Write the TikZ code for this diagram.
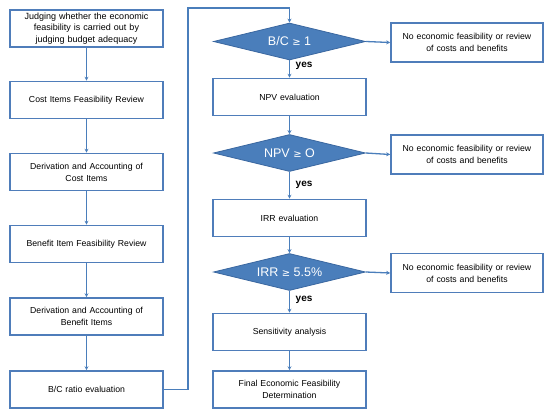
\documentclass[tikz,border=0pt]{standalone}
\usepackage{fontspec}
\setmainfont{Liberation Sans}
\newfontfamily\symfont{DejaVu Sans}
\usetikzlibrary{shapes.geometric,arrows.meta}
\definecolor{boxblue}{HTML}{4F7DBA}
\definecolor{dfill}{HTML}{4A7EBB}
\definecolor{dline}{HTML}{3A67A0}
\definecolor{arr}{HTML}{4A7EBB}
\tikzset{
  box/.style={draw=boxblue,line width=1.6pt,fill=white,minimum width=153pt,minimum height=37pt,inner sep=0pt,text width=150pt,align=center,font=\fontsize{8.7}{12}\selectfont},
  dia/.style={diamond,draw=dline,line width=0.8pt,fill=dfill,aspect=4.1,minimum width=152pt,minimum height=37pt,inner sep=0pt,text=white,font=\fontsize{12.5}{14}\selectfont},
  rbox/.style={box,minimum width=152pt,minimum height=39pt},
  conn/.style={draw=arr,line width=1.3pt,-{Stealth[length=4pt,width=4pt]}},
  yeslab/.style={anchor=west,inner sep=0pt,font=\fontsize{10}{11}\selectfont\bfseries}
}
\begin{document}
\begin{tikzpicture}[x=1pt,y=-1pt]
\useasboundingbox (0,0) rectangle (550,418);
% left column
\node[box,font=\fontsize{9}{11.3}\selectfont] (b1) at (86.5,28.5) {Judging whether the economic\\feasibility is carried out by\\judging budget adequacy};
\node[box] (b2) at (86.5,100) {Cost Items Feasibility Review};
\node[box] (b3) at (86.5,172) {Derivation and Accounting of\\Cost Items};
\node[box] (b4) at (86.5,244) {Benefit Item Feasibility Review};
\node[box] (b5) at (86.5,316.5) {Derivation and Accounting of\\Benefit Items};
\node[box] (b6) at (86.5,389.5) {B/C ratio evaluation};
% right column
\node[dia] (d1) at (289.5,41.5) {B/C {\symfont\fontsize{10}{11}\selectfont ≥} 1};
\node[box] (c1) at (289.5,97) {NPV evaluation};
\node[dia] (d2) at (289.5,153) {NPV {\symfont\fontsize{10}{11}\selectfont ≥} O};
\node[box] (c2) at (289.5,218) {IRR evaluation};
\node[dia] (d3) at (289.5,272) {IRR {\symfont\fontsize{10}{11}\selectfont ≥} 5.5\%};
\node[box] (c3) at (289.5,332) {Sensitivity analysis};
\node[box] (c4) at (289.5,389.5) {Final Economic Feasibility\\Determination};
% no boxes
\node[rbox] (r1) at (467,42.5) {No economic feasibility or review\\of costs and benefits};
\node[rbox] (r2) at (467,154.5) {No economic feasibility or review\\of costs and benefits};
\node[rbox] (r3) at (467,273) {No economic feasibility or review\\of costs and benefits};
% connectors
\draw[conn] (b1) -- (b2);
\draw[conn] (b2) -- (b3);
\draw[conn] (b3) -- (b4);
\draw[conn] (b4) -- (b5);
\draw[conn] (b5) -- (b6);
\coordinate (lp) at (188,8);
\draw[conn] (b6.east) -| (lp) -| (d1.north);
\draw[conn] (d1) -- (c1);
\draw[conn] (c1) -- (d2);
\draw[conn] (d2) -- (c2);
\draw[conn] (c2) -- (d3);
\draw[conn] (d3) -- (c3);
\draw[conn] (c3) -- (c4);
\draw[conn] (d1.east) -- (r1.west);
\draw[conn] (d2.east) -- (r2.west);
\draw[conn] (d3.east) -- (r3.west);
\node[yeslab] (y1) at (295.5,66) {yes};
\node[yeslab] (y2) at (295.5,185) {yes};
\node[yeslab] (y3) at (295.5,300) {yes};
\end{tikzpicture}
\end{document}
